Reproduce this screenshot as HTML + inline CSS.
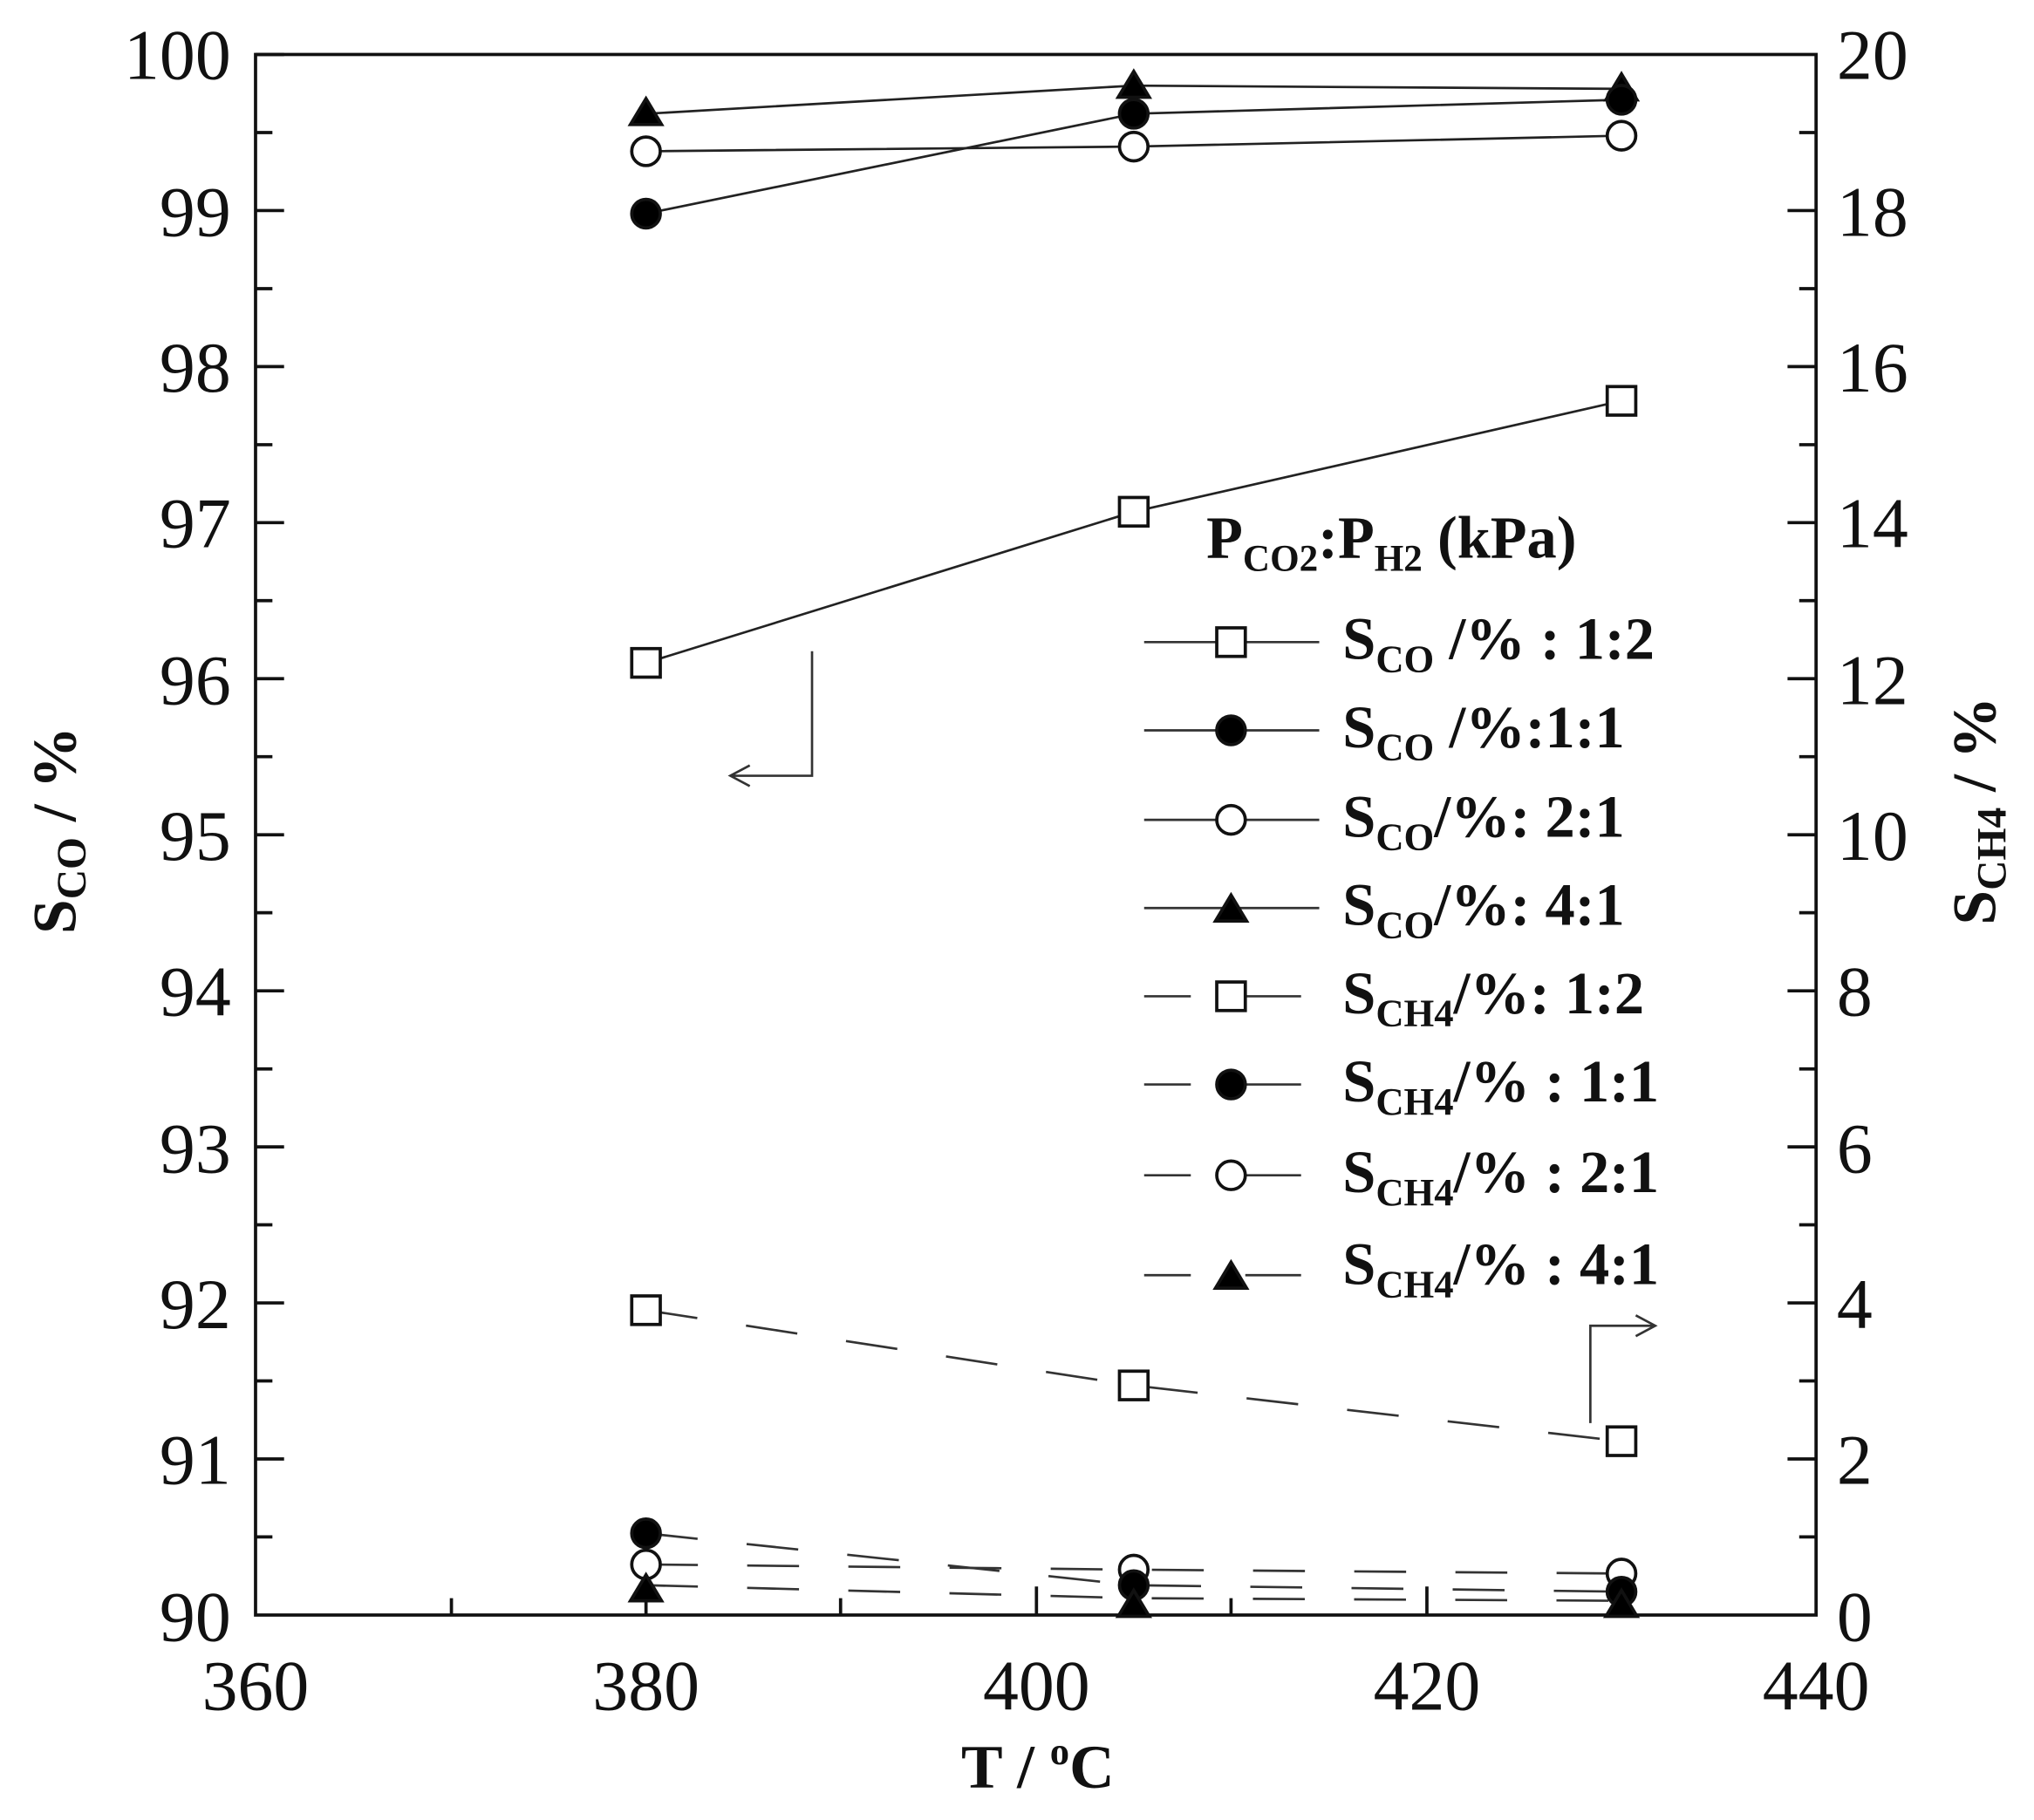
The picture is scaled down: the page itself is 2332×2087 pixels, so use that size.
<!DOCTYPE html>
<html><head><style>html,body{margin:0;padding:0;background:#fff;}svg{display:block;}</style></head>
<body>
<svg width="2332" height="2087" viewBox="0 0 1568 1403" preserveAspectRatio="none" xmlns="http://www.w3.org/2000/svg" font-family="Liberation Serif, serif">
<rect width="1568" height="1403" fill="#fff"/>
<g stroke="#111" stroke-width="2.5" fill="none">
<rect x="197" y="42" width="1203" height="1203"/>
<path d="M197 42h22M197 162.3h22M197 282.6h22M197 402.9h22M197 523.2h22M197 643.5h22M197 763.8h22M197 884.1h22M197 1004.4h22M197 1124.7h22
M197 102.2h13M197 222.5h13M197 342.8h13M197 463h13M197 583.3h13M197 703.6h13M197 824h13M197 944.2h13M197 1064.5h13M197 1184.8h13"/>
<path d="M1400 162.3h-22M1400 282.6h-22M1400 402.9h-22M1400 523.2h-22M1400 643.5h-22M1400 763.8h-22M1400 884.1h-22M1400 1004.4h-22M1400 1124.7h-22
M1400 102.2h-13M1400 222.5h-13M1400 342.8h-13M1400 463h-13M1400 583.3h-13M1400 703.6h-13M1400 824h-13M1400 944.2h-13M1400 1064.5h-13M1400 1184.8h-13"/>
<path d="M498 1245v-22M799 1245v-22M1100 1245v-22M348 1245v-13M648 1245v-13M949 1245v-13M1250 1245v-13"/>
</g>
<g font-size="55" fill="#111">
<g text-anchor="end">
<text x="178" y="61">100</text><text x="178" y="182">99</text><text x="178" y="302">98</text><text x="178" y="422">97</text><text x="178" y="543">96</text><text x="178" y="663">95</text><text x="178" y="783">94</text><text x="178" y="904">93</text><text x="178" y="1024">92</text><text x="178" y="1144">91</text><text x="178" y="1265">90</text>
</g>
<text x="1416" y="61">20</text><text x="1416" y="182">18</text><text x="1416" y="302">16</text><text x="1416" y="422">14</text><text x="1416" y="543">12</text><text x="1416" y="663">10</text><text x="1416" y="783">8</text><text x="1416" y="904">6</text><text x="1416" y="1024">4</text><text x="1416" y="1144">2</text><text x="1416" y="1265">0</text>
<g text-anchor="middle">
<text x="197" y="1318">360</text><text x="498" y="1318">380</text><text x="799" y="1318">400</text><text x="1100" y="1318">420</text><text x="1400" y="1318">440</text>
</g>
</g>
<g font-weight="bold" font-size="48" fill="#111">
<text x="800" y="1378" text-anchor="middle">T / <tspan font-size="30" dy="-18">o</tspan><tspan dy="18">C</tspan></text>
<text transform="translate(58,640) rotate(-90)" text-anchor="middle">S<tspan font-size="32" dy="8">CO</tspan><tspan dy="-8"> / %</tspan></text>
<text transform="translate(1538,625) rotate(-90)" text-anchor="middle">S<tspan font-size="32" dy="8">CH4</tspan><tspan dy="-8"> / %</tspan></text>
</g>
<g stroke="#222" stroke-width="1.8" fill="none">
<polyline points="498,87.7 874,66 1250,68.5"/>
<polyline points="498,116.6 874,113 1250,104.6"/>
<polyline points="498,164.7 874,87.7 1250,76.9"/>
<polyline points="498,511 874,394.5 1250,309"/>
</g>
<g stroke="#333" stroke-width="1.8" fill="none" stroke-dasharray="40,38">
<polyline points="498,1010 874,1068 1250,1111"/>
<polyline points="498,1182 874,1222 1250,1227"/>
<polyline points="498,1206 874,1210 1250,1213"/>
<polyline points="498,1222 874,1232 1250,1234"/>
</g>
<g stroke="#333" stroke-width="1.8" fill="none">
<path d="M626 502V598H563M578 590L563 598L578 606"/>
<path d="M1226 1097V1022H1276M1261 1014L1276 1022L1261 1030"/>
</g>
<g stroke="#111" stroke-width="2.5">
<path d="M498 76L510 96H486Z M874 55L886 75H862Z M1250 57L1262 77H1238Z" fill="#000"/>
<circle cx="498" cy="116.6" r="11" fill="#fff"/><circle cx="874" cy="113" r="11" fill="#fff"/><circle cx="1250" cy="104.6" r="11" fill="#fff"/>
<circle cx="498" cy="164.7" r="11" fill="#000"/><circle cx="874" cy="87.7" r="11" fill="#000"/><circle cx="1250" cy="76.9" r="11" fill="#000"/>
<rect x="487" y="500" width="22" height="22" fill="#fff"/><rect x="863" y="383.5" width="22" height="22" fill="#fff"/><rect x="1239" y="298" width="22" height="22" fill="#fff"/>
<rect x="487" y="999" width="22" height="22" fill="#fff"/><rect x="863" y="1057" width="22" height="22" fill="#fff"/><rect x="1239" y="1100" width="22" height="22" fill="#fff"/>
<circle cx="498" cy="1206" r="11" fill="#fff"/><circle cx="874" cy="1210" r="11" fill="#fff"/><circle cx="1250" cy="1213" r="11" fill="#fff"/>
<circle cx="498" cy="1182" r="11" fill="#000"/><circle cx="874" cy="1222" r="11" fill="#000"/><circle cx="1250" cy="1227" r="11" fill="#000"/>
<path d="M498 1214L510 1234H486Z M874 1226L886 1246H862Z M1250 1226L1262 1246H1238Z" fill="#000"/>
</g>
<g font-weight="bold" font-size="46" fill="#111">
<text x="930" y="430">P<tspan font-size="29" dy="10">CO2</tspan><tspan dy="-10">:P</tspan><tspan font-size="29" dy="10">H2</tspan><tspan dy="-10"> (kPa)</tspan></text>
<text x="1035" y="508">S<tspan font-size="30" dy="10">CO</tspan><tspan dy="-10"> /% : 1:2</tspan></text>
<text x="1035" y="576">S<tspan font-size="30" dy="10">CO</tspan><tspan dy="-10"> /%:1:1</tspan></text>
<text x="1035" y="645">S<tspan font-size="30" dy="10">CO</tspan><tspan dy="-10">/%: 2:1</tspan></text>
<text x="1035" y="713">S<tspan font-size="30" dy="10">CO</tspan><tspan dy="-10">/%: 4:1</tspan></text>
<text x="1035" y="781">S<tspan font-size="30" dy="10">CH4</tspan><tspan dy="-10">/%: 1:2</tspan></text>
<text x="1035" y="849">S<tspan font-size="30" dy="10">CH4</tspan><tspan dy="-10">/% : 1:1</tspan></text>
<text x="1035" y="919">S<tspan font-size="30" dy="10">CH4</tspan><tspan dy="-10">/% : 2:1</tspan></text>
<text x="1035" y="990">S<tspan font-size="30" dy="10">CH4</tspan><tspan dy="-10">/% : 4:1</tspan></text>
</g>
<g stroke="#333" stroke-width="1.8">
<path d="M882 495H1017M882 563H1017M882 632H1017M882 700H1017"/>
<path d="M882 768H918M960 768H1003M882 836H918M960 836H1003M882 906H918M960 906H1003M882 983H918M960 983H1003"/>
</g>
<g stroke="#111" stroke-width="2.5">
<rect x="938" y="484" width="22" height="22" fill="#fff"/>
<circle cx="949" cy="563" r="11" fill="#000"/>
<circle cx="949" cy="632" r="11" fill="#fff"/>
<path d="M949 690L961 710H937Z" fill="#000"/>
<rect x="938" y="757" width="22" height="22" fill="#fff"/>
<circle cx="949" cy="836" r="11" fill="#000"/>
<circle cx="949" cy="906" r="11" fill="#fff"/>
<path d="M949 973L961 993H937Z" fill="#000"/>
</g>
</svg>
</body></html>
